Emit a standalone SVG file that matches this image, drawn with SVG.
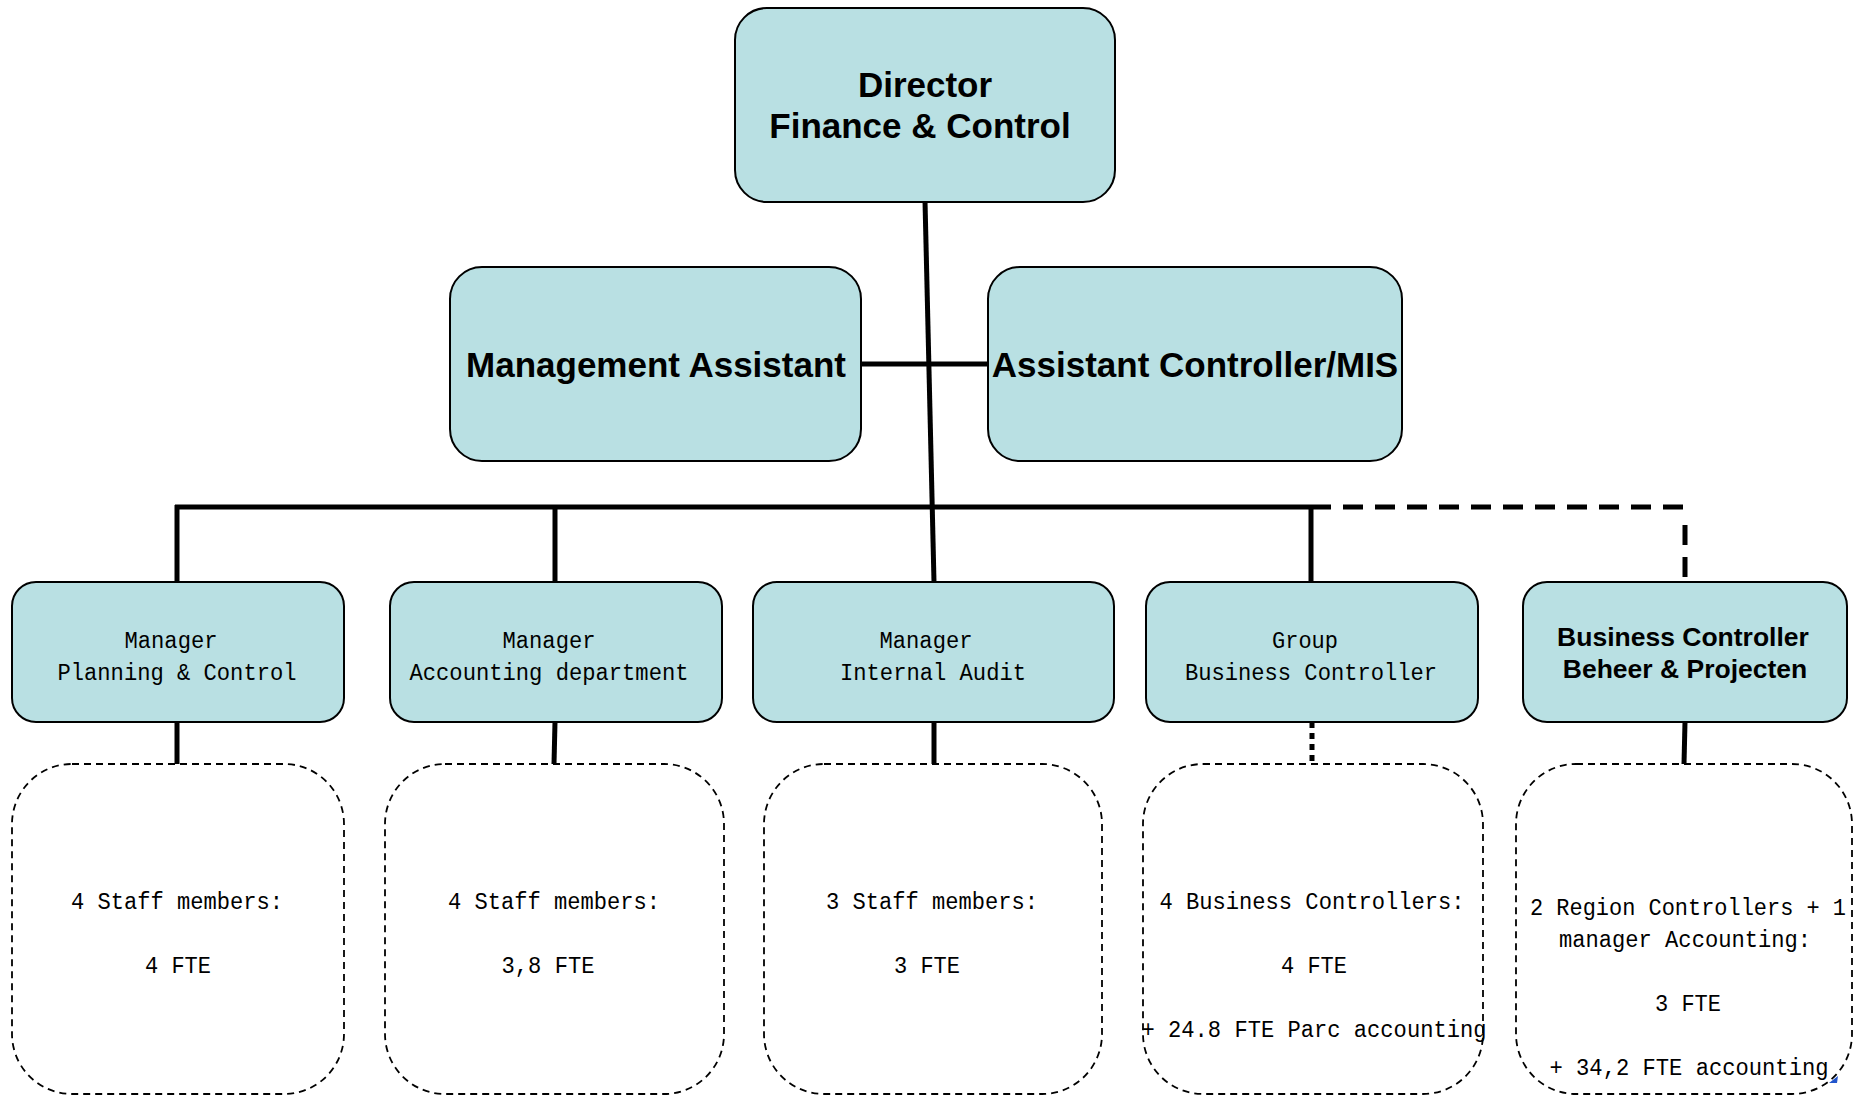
<svg xmlns="http://www.w3.org/2000/svg" width="1854" height="1096" viewBox="0 0 1854 1096">
<style>
.box{fill:#b9e0e3;stroke:#000;stroke-width:2}
.dbox{fill:#fff;stroke:#000;stroke-width:1.8;stroke-dasharray:7,5}
.bt{font-family:"Liberation Sans",Arial,sans-serif;font-weight:bold;fill:#000;text-anchor:middle}
.mt{font-family:"Liberation Mono","Courier New",monospace;font-size:23px;fill:#000;text-anchor:middle}
.ln{stroke:#000;stroke-width:5;fill:none}
.dl{stroke:#000;stroke-width:5;fill:none;stroke-dasharray:20,12}
.dt{stroke:#000;stroke-width:5;fill:none;stroke-dasharray:6,5}
</style>
<rect width="1854" height="1096" fill="#fff"/>
<g id="connectors">
<line class="ln" x1="925" y1="201" x2="934" y2="582"/>
<line class="ln" x1="861" y1="364" x2="988" y2="364"/>
<line class="ln" x1="175" y1="507" x2="1311" y2="507"/>
<line class="dl" x1="1311" y1="507" x2="1687" y2="507"/>
<line class="dl" x1="1685" y1="525" x2="1685" y2="582"/>
<line class="ln" x1="177" y1="505" x2="177" y2="582"/>
<line class="ln" x1="555" y1="505" x2="555" y2="582"/>
<line class="ln" x1="1311" y1="505" x2="1311" y2="582"/>
<line class="ln" x1="177" y1="722" x2="177" y2="764"/>
<line class="ln" x1="555" y1="722" x2="554" y2="764"/>
<line class="ln" x1="934" y1="722" x2="934" y2="764"/>
<line class="dt" x1="1312" y1="722" x2="1312" y2="764"/>
<line class="ln" x1="1685" y1="722" x2="1684" y2="764"/>
</g>
<g id="director">
<rect class="box" x="735" y="8" width="380" height="194" rx="32"/>
<text class="bt" font-size="35" x="925" y="97">Director</text>
<text class="bt" font-size="35" x="920" y="138">Finance &amp; Control</text>
</g>
<g id="mgmt-assistant">
<rect class="box" x="450" y="267" width="411" height="194" rx="32"/>
<text class="bt" font-size="35" x="656" y="377">Management Assistant</text>
</g>
<g id="assistant-controller">
<rect class="box" x="988" y="267" width="414" height="194" rx="32"/>
<text class="bt" font-size="35" x="1195" y="377">Assistant Controller/MIS</text>
</g>
<g id="mgr-planning">
<rect class="box" x="12" y="582" width="332" height="140" rx="24"/>
<text class="mt" x="171" y="648" textLength="93" lengthAdjust="spacingAndGlyphs">Manager</text>
<text class="mt" x="177" y="680" textLength="239" lengthAdjust="spacingAndGlyphs">Planning &amp; Control</text>
</g>
<g id="mgr-accounting">
<rect class="box" x="390" y="582" width="332" height="140" rx="24"/>
<text class="mt" x="549" y="648" textLength="93" lengthAdjust="spacingAndGlyphs">Manager</text>
<text class="mt" x="549" y="680" textLength="279" lengthAdjust="spacingAndGlyphs">Accounting department</text>
</g>
<g id="mgr-audit">
<rect class="box" x="753" y="582" width="361" height="140" rx="24"/>
<text class="mt" x="926" y="648" textLength="93" lengthAdjust="spacingAndGlyphs">Manager</text>
<text class="mt" x="933" y="680" textLength="186" lengthAdjust="spacingAndGlyphs">Internal Audit</text>
</g>
<g id="group-bc">
<rect class="box" x="1146" y="582" width="332" height="140" rx="24"/>
<text class="mt" x="1305" y="648" textLength="66" lengthAdjust="spacingAndGlyphs">Group</text>
<text class="mt" x="1311" y="680" textLength="252" lengthAdjust="spacingAndGlyphs">Business Controller</text>
</g>
<g id="bc-beheer">
<rect class="box" x="1523" y="582" width="324" height="140" rx="24"/>
<text class="bt" font-size="26.5" x="1683" y="646">Business Controller</text>
<text class="bt" font-size="26.5" x="1685" y="678">Beheer &amp; Projecten</text>
</g>
<g id="staff-planning">
<rect class="dbox" x="12" y="764" width="332" height="330" rx="60"/>
<text class="mt" x="177" y="909" textLength="212" lengthAdjust="spacingAndGlyphs">4 Staff members:</text>
<text class="mt" x="178" y="973" textLength="66" lengthAdjust="spacingAndGlyphs">4 FTE</text>
</g>
<g id="staff-accounting">
<rect class="dbox" x="385" y="764" width="339" height="330" rx="60"/>
<text class="mt" x="554" y="909" textLength="212" lengthAdjust="spacingAndGlyphs">4 Staff members:</text>
<text class="mt" x="548" y="973" textLength="93" lengthAdjust="spacingAndGlyphs">3,8 FTE</text>
</g>
<g id="staff-audit">
<rect class="dbox" x="764" y="764" width="338" height="330" rx="60"/>
<text class="mt" x="932" y="909" textLength="212" lengthAdjust="spacingAndGlyphs">3 Staff members:</text>
<text class="mt" x="927" y="973" textLength="66" lengthAdjust="spacingAndGlyphs">3 FTE</text>
</g>
<g id="staff-bc">
<rect class="dbox" x="1143" y="764" width="340" height="330" rx="60"/>
<text class="mt" x="1312" y="909" textLength="305" lengthAdjust="spacingAndGlyphs">4 Business Controllers:</text>
<text class="mt" x="1314" y="973" textLength="66" lengthAdjust="spacingAndGlyphs">4 FTE</text>
<text class="mt" x="1314" y="1037" textLength="345" lengthAdjust="spacingAndGlyphs">+ 24.8 FTE Parc accounting</text>
</g>
<g id="staff-beheer">
<rect class="dbox" x="1516" y="764" width="336" height="330" rx="60"/>
<text class="mt" x="1688" y="915" textLength="316" lengthAdjust="spacingAndGlyphs">2 Region Controllers + 1</text>
<text class="mt" x="1685" y="947" textLength="252" lengthAdjust="spacingAndGlyphs">manager Accounting:</text>
<text class="mt" x="1688" y="1011" textLength="66" lengthAdjust="spacingAndGlyphs">3 FTE</text>
<text class="mt" x="1689" y="1075" textLength="279" lengthAdjust="spacingAndGlyphs">+ 34,2 FTE accounting</text>
<path d="M1829 1083 L1838 1076 L1837 1083 Z" fill="#2255cc"/>
</g>
</svg>
